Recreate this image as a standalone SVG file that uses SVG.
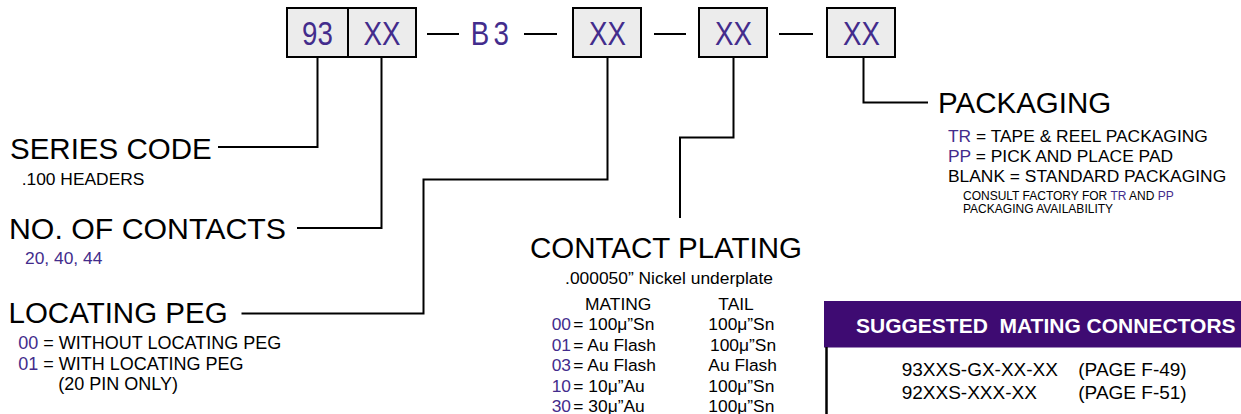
<svg xmlns="http://www.w3.org/2000/svg" width="1241" height="414" viewBox="0 0 1241 414">
<style>
text{font-family:"Liberation Sans",Arial,Helvetica,sans-serif;fill:#000}
.p{fill:#432c8c}
.box{fill:#ececec;stroke:#000;stroke-width:2}
.code{font-size:33px;fill:#432c8c;text-anchor:middle}
.big{font-size:29.5px}
.sm{font-size:17.4px}
.md{font-size:18px}
.xs{font-size:12px}
.end{text-anchor:end}
.mid{text-anchor:middle}
.con{fill:none;stroke:#000;stroke-width:2}
</style>
<rect width="1241" height="414" fill="#fff"/>

<g id="part-number">
  <g id="seg-series">
    <rect class="box" x="287" y="8" width="61" height="49"/>
    <text class="code" transform="translate(317.5,45) scale(0.84,1)">93</text>
  </g>
  <g id="seg-contacts">
    <rect class="box" x="348" y="8" width="68" height="49"/>
    <text class="code" transform="translate(382,45) scale(0.84,1)">XX</text>
  </g>
  <g id="seg-b3">
    <text class="code" transform="translate(492,45) scale(0.84,1)" letter-spacing="5">B3</text>
  </g>
  <g id="seg-peg">
    <rect class="box" x="573" y="8" width="68" height="49"/>
    <text class="code" transform="translate(607.5,45) scale(0.84,1)">XX</text>
  </g>
  <g id="seg-plating">
    <rect class="box" x="699" y="8" width="68" height="49"/>
    <text class="code" transform="translate(733.5,45) scale(0.84,1)">XX</text>
  </g>
  <g id="seg-packaging">
    <rect class="box" x="827" y="8" width="68" height="49"/>
    <text class="code" transform="translate(861.5,45) scale(0.84,1)">XX</text>
  </g>
</g>

<g id="connectors">
  <line class="con" x1="427" y1="34" x2="459" y2="34"/>
  <line class="con" x1="524" y1="34" x2="557" y2="34"/>
  <line class="con" x1="654" y1="34" x2="686" y2="34"/>
  <line class="con" x1="779" y1="34" x2="813" y2="34"/>
  <polyline class="con" points="317.5,57 317.5,147 218,147"/>
  <polyline class="con" points="381.5,57 381.5,228 297,228"/>
  <polyline class="con" points="607.5,57 607.5,179.5 423.5,179.5 423.5,313.5 241.5,313.5"/>
  <polyline class="con" points="733.5,57 733.5,137.5 680,137.5 680,218"/>
  <polyline class="con" points="863.5,57 863.5,102.5 928,102.5"/>
</g>

<g id="series-code">
  <text class="big" x="10" y="159.3">SERIES CODE</text>
  <text class="sm" x="21.7" y="185">.100 HEADERS</text>
</g>

<g id="no-of-contacts">
  <text class="big" x="9" y="238.5" textLength="277" lengthAdjust="spacingAndGlyphs">NO. OF CONTACTS</text>
  <text class="sm p" x="25" y="264">20, 40, 44</text>
</g>

<g id="locating-peg">
  <text class="big" x="8.5" y="323.3">LOCATING PEG</text>
  <text class="md p" x="18.3" y="349.3">00</text>
  <text class="md" x="43.3" y="349.3">= WITHOUT LOCATING PEG</text>
  <text class="md p" x="18.3" y="370">01</text>
  <text class="md" x="43.3" y="370">= WITH LOCATING PEG</text>
  <text class="md" x="58.3" y="390">(20 PIN ONLY)</text>
</g>

<g id="contact-plating">
  <text class="big mid" x="666" y="258.3">CONTACT PLATING</text>
  <text class="sm mid" x="669" y="284">.000050” Nickel underplate</text>
  <text class="sm" x="585" y="310">MATING</text>
  <text class="sm" x="718.3" y="310">TAIL</text>
  <text class="sm p end" x="571" y="330">00</text>
  <text class="sm" x="573.3" y="330">= 100μ”Sn</text>
  <text class="sm" x="708.3" y="330">100μ”Sn</text>
  <text class="sm p end" x="571" y="350.5">01</text>
  <text class="sm" x="573.3" y="350.5">= Au Flash</text>
  <text class="sm" x="710" y="350.5">100μ”Sn</text>
  <text class="sm p end" x="571" y="371">03</text>
  <text class="sm" x="573.3" y="371">= Au Flash</text>
  <text class="sm" x="708.3" y="371">Au Flash</text>
  <text class="sm p end" x="571" y="391.5">10</text>
  <text class="sm" x="573.3" y="391.5">= 10μ”Au</text>
  <text class="sm" x="708.3" y="391.5">100μ”Sn</text>
  <text class="sm p end" x="571" y="412">30</text>
  <text class="sm" x="573.3" y="412">= 30μ”Au</text>
  <text class="sm" x="708.3" y="412">100μ”Sn</text>
</g>

<g id="packaging">
  <text class="big" x="938" y="113">PACKAGING</text>
  <text class="sm" x="948" y="142"><tspan class="p">TR</tspan> = TAPE &amp; REEL PACKAGING</text>
  <text class="sm" x="948" y="162"><tspan class="p">PP</tspan> = PICK AND PLACE PAD</text>
  <text class="sm" x="948" y="182">BLANK = STANDARD PACKAGING</text>
  <text class="xs" x="963" y="200">CONSULT FACTORY FOR <tspan class="p">TR</tspan> AND <tspan class="p">PP</tspan></text>
  <text class="xs" x="963" y="212.7">PACKAGING AVAILABILITY</text>
</g>

<g id="mating-connectors">
  <rect x="824" y="301" width="420" height="46.5" fill="#3e0b72"/>
  <line x1="826.5" y1="347" x2="826.5" y2="414" stroke="#000" stroke-width="2.5"/>
  <text x="856" y="333.3" font-size="21" font-weight="bold" style="fill:#fff">SUGGESTED&#160; MATING CONNECTORS</text>
  <text x="901.7" y="376" font-size="19">93XXS-GX-XX-XX</text>
  <text x="1078.3" y="376" font-size="19">(PAGE F-49)</text>
  <text x="901.7" y="399" font-size="19">92XXS-XXX-XX</text>
  <text x="1078.3" y="399" font-size="19">(PAGE F-51)</text>
</g>
</svg>
